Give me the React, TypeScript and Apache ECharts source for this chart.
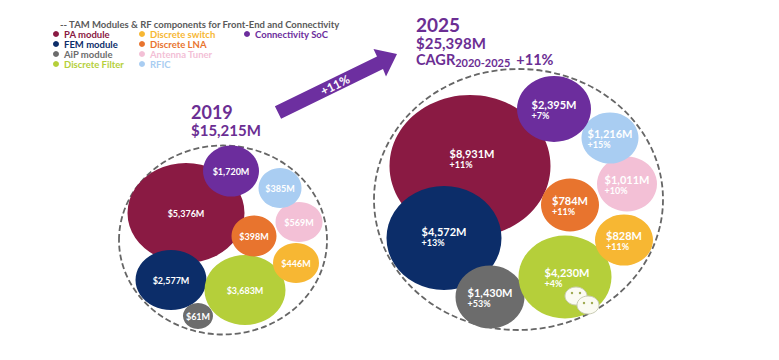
import React, { useEffect, useRef } from 'react';
import * as echarts from 'echarts';

// ---------- data ----------
const categories = ['PA module', 'FEM module', 'AiP module', 'Discrete Filter', 'Discrete switch', 'Discrete LNA', 'Antenna Tuner', 'RFIC', 'Connectivity SoC'];
const tam2019 = [5376, 2577, 61, 3683, 446, 398, 569, 385, 1720];
const tam2025 = [8931, 4572, 1430, 4230, 828, 784, 1011, 1216, 2395];
const cagr2025 = ['+11%', '+13%', '+53%', '+4%', '+11%', '+11%', '+10%', '+15%', '+7%'];
const years = ['2019', '2025'];
const totals = ['$15,215M', '$25,398M'];
const overallCagr = '+11%';
const cagrPeriod = '2020-2025';
const growthLabel = '+11%';
const legendTitle = '-- TAM Modules & RF components for Front-End and Connectivity';

// ---------- styles / layout ----------
const colors = ['#8a1a43', '#0c2d69', '#6c6c6c', '#b5cf3a', '#f7b733', '#e8742e', '#f3c0d6', '#a9cdf2', '#6c2d9d'];
const purple = '#6b2e93';
const FONT = 'Lato, "Open Sans", sans-serif';

// bubble centres (px) and ellipse sizes [w, h] (px)
const pos2019 = [[186, 213], [171, 280], [198, 316], [245, 290], [296, 263], [254, 236], [299, 222], [280, 188], [231, 171]];
const size2019 = [[117, 100], [71, 60], [30, 26], [81, 70], [46, 40], [45, 41], [47, 40], [43, 40], [56, 51]];
const pos2025 = [[470, 166], [444, 238], [490, 297], [565, 277], [624, 240], [570, 205], [627, 184], [610, 138], [554, 109]];
const size2025 = [[161, 142], [115, 104], [69, 63], [93, 83], [58, 51], [58, 53], [60, 55], [57, 51], [74, 66]];
const labelOffset2025 = [[2, -8], [0, -2], [0, 0], [2, 0], [0, 0], [0, 0], [0, 0], [0, 0], [0, 0]];

const fmt = (v: number) => '$' + v.toLocaleString('en-US') + 'M';

export default function App() {
  const ref = useRef<HTMLDivElement>(null);
  useEffect(() => {
    document.body.style.margin = '0';
    const chart = echarts.init(ref.current!, undefined, { renderer: 'svg' });

    const series = categories.map((name, i) => ({
      type: 'scatter',
      name,
      itemStyle: { color: colors[i], opacity: 1 },
      emphasis: { disabled: true },
      silent: true,
      data: [
        {
          value: [pos2019[i][0], pos2019[i][1], tam2019[i]],
          symbolSize: size2019[i],
          label: {
            show: true,
            position: 'inside',
            formatter: (p: any) => fmt(p.value[2]),
            color: '#fff',
            fontSize: 9,
            fontWeight: 'bold',
            fontFamily: FONT,
          },
        },
        {
          value: [pos2025[i][0], pos2025[i][1], tam2025[i]],
          symbolSize: size2025[i],
          label: {
            show: true,
            position: 'inside',
            offset: labelOffset2025[i],
            formatter: (p: any) => `{v|${fmt(p.value[2])}}\n{p|${cagr2025[i]}}`,
            rich: {
              v: { color: '#fff', fontSize: 11, fontWeight: 'bold', fontFamily: FONT, align: 'left', lineHeight: 12 },
              p: { color: '#fff', fontSize: 9, fontWeight: 'bold', fontFamily: FONT, align: 'left', lineHeight: 10 },
            },
          },
        },
      ],
    }));

    const legendCommon = {
      orient: 'vertical',
      top: 24,
      icon: 'circle',
      itemWidth: 6,
      itemHeight: 6,
      itemGap: 0,
      selectedMode: false,
      textStyle: { fontSize: 9.5, fontWeight: 'bold', fontFamily: FONT, lineHeight: 9.6 },
    };
    const legendItems = (idx: number[]) => idx.map((i) => ({ name: categories[i], textStyle: { color: colors[i] } }));

    const arrowPts = [
      [274.9, 106.2], [377, 56.5], [373.5, 49], [397, 54], [386, 76.5], [383, 69.1], [281.1, 118.8],
    ];

    chart.setOption({
      animation: false,
      backgroundColor: '#ffffff',
      textStyle: { fontFamily: FONT },
      grid: { left: 0, right: 0, top: 0, bottom: 0 },
      xAxis: { type: 'value', min: 0, max: 779, show: false },
      yAxis: { type: 'value', min: 0, max: 360, inverse: true, show: false },
      legend: [
        { ...legendCommon, left: 48, data: legendItems([0, 1, 2, 3]) },
        { ...legendCommon, left: 134, data: legendItems([4, 5, 6, 7]) },
        { ...legendCommon, left: 239, data: legendItems([8]) },
      ],
      graphic: [
        { type: 'ellipse', z: 0, silent: true, shape: { cx: 223, cy: 240, rx: 104, ry: 94.5 }, style: { fill: 'none', stroke: '#666666', lineWidth: 1.8, lineDash: [6, 3] } },
        { type: 'ellipse', z: 0, silent: true, shape: { cx: 518.5, cy: 199.5, rx: 144.5, ry: 130.5 }, style: { fill: 'none', stroke: '#666666', lineWidth: 1.8, lineDash: [6, 3] } },
        { type: 'polygon', z: 0, silent: true, shape: { points: arrowPts }, style: { fill: '#6d2fa0' } },
        { type: 'text', z: 1, silent: true, x: 335, y: 85, rotation: 0.46, style: { text: growthLabel, fill: '#fff', font: `bold 12px ${FONT}`, align: 'center', verticalAlign: 'middle' } },
        { type: 'text', z: 1, silent: true, x: 60, y: 24, style: { text: legendTitle, fill: '#5a5a5a', font: `bold 9.5px ${FONT}`, align: 'left', verticalAlign: 'middle' } },
        { type: 'text', z: 1, silent: true, x: 191, y: 112, style: { text: years[0], fill: purple, font: `bold 18px ${FONT}`, align: 'left', verticalAlign: 'middle' } },
        { type: 'text', z: 1, silent: true, x: 191, y: 130, style: { text: totals[0], fill: purple, font: `bold 15px ${FONT}`, align: 'left', verticalAlign: 'middle' } },
        { type: 'text', z: 1, silent: true, x: 416, y: 24, style: { text: years[1], fill: purple, font: `bold 19px ${FONT}`, align: 'left', verticalAlign: 'middle' } },
        { type: 'text', z: 1, silent: true, x: 416, y: 43, style: { text: totals[1], fill: purple, font: `bold 15px ${FONT}`, align: 'left', verticalAlign: 'middle' } },
        {
          type: 'text', z: 1, silent: true, x: 416, y: 59.5,
          style: {
            text: `{a|CAGR}{b|${cagrPeriod}}{c|${overallCagr}}`,
            align: 'left',
            verticalAlign: 'middle',
            rich: {
              a: { fill: purple, fontSize: 14.5, fontWeight: 'bold', fontFamily: FONT },
              b: { fill: purple, fontSize: 11, fontWeight: 'bold', fontFamily: FONT, padding: [5, 0, 0, 0] },
              c: { fill: purple, fontSize: 14.5, fontWeight: 'bold', fontFamily: FONT, padding: [0, 0, 0, 6] },
            },
          },
        },
        // watermark
        { type: 'ellipse', z: 10, silent: true, shape: { cx: 576, cy: 296, rx: 11, ry: 9 }, style: { fill: '#fbfbf2', stroke: '#c9ccb4', lineWidth: 1 } },
        { type: 'ellipse', z: 11, silent: true, shape: { cx: 588, cy: 305, rx: 11, ry: 9 }, style: { fill: '#fbfbf2', stroke: '#c9ccb4', lineWidth: 1 } },
        { type: 'circle', z: 12, silent: true, shape: { cx: 572, cy: 293, r: 1.2 }, style: { fill: '#9aa64a' } },
        { type: 'circle', z: 12, silent: true, shape: { cx: 580, cy: 293, r: 1.2 }, style: { fill: '#9aa64a' } },
        { type: 'circle', z: 12, silent: true, shape: { cx: 584, cy: 303, r: 1.2 }, style: { fill: '#9aa64a' } },
        { type: 'circle', z: 12, silent: true, shape: { cx: 592, cy: 303, r: 1.2 }, style: { fill: '#9aa64a' } },
      ],
      series,
    });
    return () => chart.dispose();
  }, []);
  return <div ref={ref} style={{ width: 779, height: 360 }} />;
}
